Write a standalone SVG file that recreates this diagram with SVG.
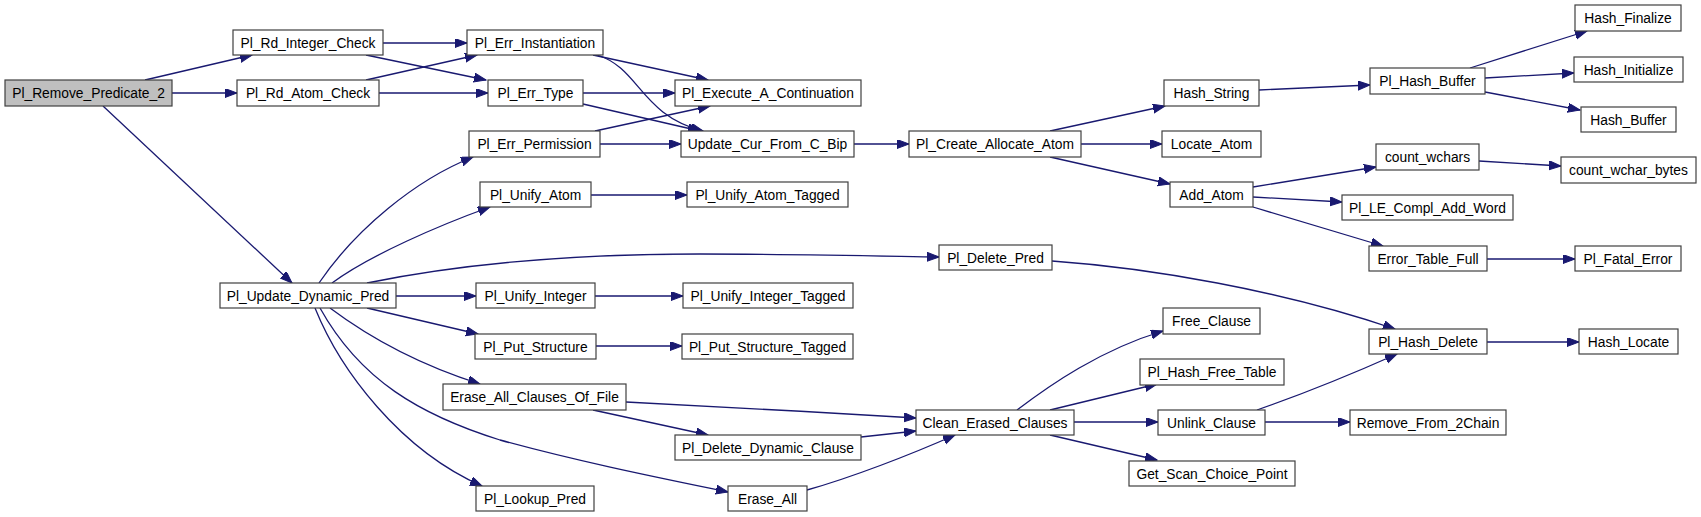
<svg xmlns="http://www.w3.org/2000/svg" width="1701" height="517" viewBox="0 0 1701 517">
<style>
.node rect{fill:#ffffff;stroke:#404040;stroke-width:1.2}
.node.root rect{fill:#bfbfbf}
.node text{font-family:"Liberation Sans",Arial,sans-serif;font-size:13.8px;fill:#000;text-anchor:middle}
.e{fill:none;stroke:#191970;stroke-width:1.3;marker-end:url(#arr)}
</style>
<defs>
<marker id="arr" markerUnits="userSpaceOnUse" markerWidth="13" markerHeight="10" refX="12" refY="4.5" orient="auto">
<path d="M0,0 L12,4.5 L0,9 z" fill="#191970" stroke="#191970" stroke-width="1"/>
</marker>
</defs>
<rect width="1701" height="517" fill="#ffffff"/>
<g id="edges">
<path class="e" d="M145,80 L252,55"/>
<path class="e" d="M172,93 L237,93"/>
<path class="e" d="M103,106 L292,283"/>
<path class="e" d="M383,43 L467,43"/>
<path class="e" d="M366,55 L486,80"/>
<path class="e" d="M366,80 L477,55"/>
<path class="e" d="M379,93 L488,93"/>
<path class="e" d="M593,55 L708,80"/>
<path class="e" d="M597,55 C640,68 640,115 703,131"/>
<path class="e" d="M583,93 L675,93"/>
<path class="e" d="M583,104 L700,131"/>
<path class="e" d="M595,131 L710,106"/>
<path class="e" d="M600,144 L681,144"/>
<path class="e" d="M854,144 L909,144"/>
<path class="e" d="M1050,131 L1165,106"/>
<path class="e" d="M1081,144 L1162,144"/>
<path class="e" d="M1050,157 L1170,184"/>
<path class="e" d="M1259,90 L1370,85"/>
<path class="e" d="M1470,68 L1587,31"/>
<path class="e" d="M1485,78 L1574,73"/>
<path class="e" d="M1485,92 L1580,110"/>
<path class="e" d="M1253,187 L1376,167"/>
<path class="e" d="M1253,197 L1342,202"/>
<path class="e" d="M1253,207 L1383,246"/>
<path class="e" d="M1479,161 L1561,166"/>
<path class="e" d="M1487,259 L1575,259"/>
<path class="e" d="M319,283 C355,230 415,180 473,157"/>
<path class="e" d="M332,283 C370,255 440,225 490,207"/>
<path class="e" d="M367,283 C450,266 560,254 700,254 C800,254 880,256 939,257"/>
<path class="e" d="M396,296 L476,296"/>
<path class="e" d="M367,308 L478,334"/>
<path class="e" d="M330,308 C370,338 420,365 480,384"/>
<path class="e" d="M320,308 C360,380 420,415 500,440 C580,462 660,478 728,492"/>
<path class="e" d="M315,308 C340,370 400,450 482,486"/>
<path class="e" d="M626,402 C720,407 820,412 916,418"/>
<path class="e" d="M593,410 L708,435"/>
<path class="e" d="M861,437 L916,431"/>
<path class="e" d="M807,490 C850,478 910,455 955,435"/>
<path class="e" d="M1017,410 C1050,385 1100,350 1163,331"/>
<path class="e" d="M1050,410 L1157,384"/>
<path class="e" d="M1074,422 L1158,422"/>
<path class="e" d="M1050,435 L1157,460"/>
<path class="e" d="M1257,410 C1300,395 1350,375 1397,354"/>
<path class="e" d="M1265,422 L1350,422"/>
<path class="e" d="M1052,261 C1150,268 1280,290 1395,329"/>
<path class="e" d="M1487,342 L1579,342"/>
<path class="e" d="M591,195 L687,195"/>
<path class="e" d="M595,296 L683,296"/>
<path class="e" d="M596,346 L682,346"/>
</g>
<g id="n1" class="node root"><rect x="5" y="80" width="167" height="26"/><text x="88.5" y="98">Pl_Remove_Predicate_2</text></g>
<g id="n2" class="node"><rect x="233" y="30" width="150" height="25"/><text x="308" y="47.5">Pl_Rd_Integer_Check</text></g>
<g id="n3" class="node"><rect x="237" y="80" width="142" height="26"/><text x="308" y="98">Pl_Rd_Atom_Check</text></g>
<g id="n4" class="node"><rect x="467" y="30" width="136" height="25"/><text x="535" y="47.5">Pl_Err_Instantiation</text></g>
<g id="n5" class="node"><rect x="488" y="80" width="95" height="26"/><text x="535.5" y="98">Pl_Err_Type</text></g>
<g id="n6" class="node"><rect x="675" y="80" width="186" height="26"/><text x="768" y="98">Pl_Execute_A_Continuation</text></g>
<g id="n7" class="node"><rect x="469" y="131" width="131" height="26"/><text x="534.5" y="149">Pl_Err_Permission</text></g>
<g id="n8" class="node"><rect x="681" y="131" width="173" height="26"/><text x="767.5" y="149">Update_Cur_From_C_Bip</text></g>
<g id="n9" class="node"><rect x="909" y="131" width="172" height="26"/><text x="995" y="149">Pl_Create_Allocate_Atom</text></g>
<g id="n10" class="node"><rect x="1164" y="80" width="95" height="26"/><text x="1211.5" y="98">Hash_String</text></g>
<g id="n11" class="node"><rect x="1162" y="131" width="99" height="26"/><text x="1211.5" y="149">Locate_Atom</text></g>
<g id="n12" class="node"><rect x="1370" y="68" width="115" height="26"/><text x="1427.5" y="86">Pl_Hash_Buffer</text></g>
<g id="n13" class="node"><rect x="1575" y="5" width="106" height="26"/><text x="1628" y="23">Hash_Finalize</text></g>
<g id="n14" class="node"><rect x="1574" y="57" width="109" height="25"/><text x="1628.5" y="74.5">Hash_Initialize</text></g>
<g id="n15" class="node"><rect x="1581" y="107" width="95" height="25"/><text x="1628.5" y="124.5">Hash_Buffer</text></g>
<g id="n16" class="node"><rect x="1376" y="144" width="103" height="26"/><text x="1427.5" y="162">count_wchars</text></g>
<g id="n17" class="node"><rect x="1561" y="157" width="135" height="26"/><text x="1628.5" y="175">count_wchar_bytes</text></g>
<g id="n18" class="node"><rect x="1170" y="182" width="83" height="25"/><text x="1211.5" y="199.5">Add_Atom</text></g>
<g id="n19" class="node"><rect x="1342" y="195" width="171" height="25"/><text x="1427.5" y="212.5">Pl_LE_Compl_Add_Word</text></g>
<g id="n20" class="node"><rect x="1369" y="246" width="118" height="25"/><text x="1428" y="263.5">Error_Table_Full</text></g>
<g id="n21" class="node"><rect x="1575" y="246" width="106" height="25"/><text x="1628" y="263.5">Pl_Fatal_Error</text></g>
<g id="n22" class="node"><rect x="220" y="283" width="176" height="25"/><text x="308" y="300.5">Pl_Update_Dynamic_Pred</text></g>
<g id="n23" class="node"><rect x="480" y="182" width="111" height="25"/><text x="535.5" y="199.5">Pl_Unify_Atom</text></g>
<g id="n24" class="node"><rect x="687" y="182" width="161" height="25"/><text x="767.5" y="199.5">Pl_Unify_Atom_Tagged</text></g>
<g id="n25" class="node"><rect x="939" y="245" width="113" height="25"/><text x="995.5" y="262.5">Pl_Delete_Pred</text></g>
<g id="n26" class="node"><rect x="476" y="283" width="119" height="25"/><text x="535.5" y="300.5">Pl_Unify_Integer</text></g>
<g id="n27" class="node"><rect x="683" y="283" width="170" height="25"/><text x="768" y="300.5">Pl_Unify_Integer_Tagged</text></g>
<g id="n28" class="node"><rect x="475" y="334" width="121" height="25"/><text x="535.5" y="351.5">Pl_Put_Structure</text></g>
<g id="n29" class="node"><rect x="682" y="334" width="171" height="25"/><text x="767.5" y="351.5">Pl_Put_Structure_Tagged</text></g>
<g id="n30" class="node"><rect x="443" y="384" width="183" height="26"/><text x="534.5" y="402">Erase_All_Clauses_Of_File</text></g>
<g id="n31" class="node"><rect x="675" y="435" width="186" height="25"/><text x="768" y="452.5">Pl_Delete_Dynamic_Clause</text></g>
<g id="n32" class="node"><rect x="476" y="486" width="118" height="25"/><text x="535" y="503.5">Pl_Lookup_Pred</text></g>
<g id="n33" class="node"><rect x="728" y="486" width="79" height="25"/><text x="767.5" y="503.5">Erase_All</text></g>
<g id="n34" class="node"><rect x="916" y="410" width="158" height="25"/><text x="995" y="427.5">Clean_Erased_Clauses</text></g>
<g id="n35" class="node"><rect x="1163" y="308" width="97" height="26"/><text x="1211.5" y="326">Free_Clause</text></g>
<g id="n36" class="node"><rect x="1140" y="359" width="144" height="26"/><text x="1212" y="377">Pl_Hash_Free_Table</text></g>
<g id="n37" class="node"><rect x="1158" y="410" width="107" height="25"/><text x="1211.5" y="427.5">Unlink_Clause</text></g>
<g id="n38" class="node"><rect x="1129" y="461" width="166" height="25"/><text x="1212" y="478.5">Get_Scan_Choice_Point</text></g>
<g id="n39" class="node"><rect x="1369" y="329" width="118" height="25"/><text x="1428" y="346.5">Pl_Hash_Delete</text></g>
<g id="n40" class="node"><rect x="1579" y="329" width="99" height="25"/><text x="1628.5" y="346.5">Hash_Locate</text></g>
<g id="n41" class="node"><rect x="1350" y="410" width="156" height="25"/><text x="1428" y="427.5">Remove_From_2Chain</text></g>
</svg>
